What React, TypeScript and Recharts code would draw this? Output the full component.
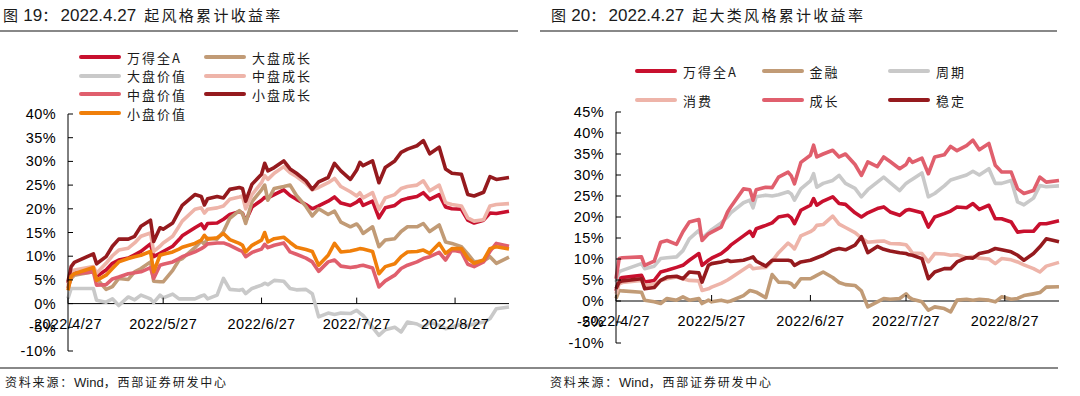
import React from 'react';
import { LineChart, Line, XAxis, YAxis, ReferenceLine } from 'recharts';

// trading days sampled from the two panels (2022)
const DATES = [
  '4/27', '4/28', '4/29', '5/5', '5/6', '5/9', '5/11', '5/13', '5/16', '5/18',
  '5/20', '5/23', '5/24', '5/26', '5/27', '5/30', '6/1', '6/2', '6/6', '6/8',
  '6/9', '6/10', '6/13', '6/15', '6/17', '6/20', '6/21', '6/22', '6/24', '6/27',
  '6/28', '6/29', '7/1', '7/4', '7/6', '7/8', '7/11', '7/13', '7/15', '7/18',
  '7/20', '7/22', '7/25', '7/27', '7/28', '7/29', '8/1', '8/3', '8/5', '8/8',
  '8/10', '8/12', '8/15', '8/17', '8/19', '8/22', '8/24', '8/26', '8/29', '8/31',
  '9/2', '9/5', '9/7', '9/9', '9/13',
];
const TICK_DATES = ['4/27', '5/27', '6/27', '7/27', '8/27'];
const LAST_DATE = '9/13';

const LEFT_Y_TICKS = [-10, -5, 0, 5, 10, 15, 20, 25, 30, 35, 40];
const RIGHT_Y_TICKS = [-10, -5, 0, 5, 10, 15, 20, 25, 30, 35, 40, 45];

const LEFT_NAMES = ['万得全A', '大盘成长', '大盘价值', '中盘成长', '中盘价值', '小盘成长', '小盘价值'];
const RIGHT_NAMES = ['万得全A', '金融', '周期', '消费', '成长', '稳定'];

// 图19 cumulative returns, %
const L_WIND_A = [
  4.3, 6.4, 6.7, 7.4, 5.7, 7.1, 8.5, 9.2, 9.6, 10.3,
  11.0, 12.6, 9.9, 10.6, 11.0, 12.1, 13.5, 14.3, 16.0, 16.8,
  15.8, 16.9, 17.0, 17.8, 18.8, 19.4, 19.1, 17.4, 20.4, 21.8,
  22.4, 22.3, 23.0, 24.0, 22.8, 22.0, 20.9, 20.0, 20.6, 21.6,
  22.5, 21.2, 20.7, 21.4, 22.0, 20.7, 21.6, 18.1, 20.2, 20.7,
  21.8, 22.2, 22.6, 23.4, 22.0, 23.0, 20.4, 20.0, 19.9, 17.6,
  17.0, 17.6, 19.1, 19.0, 19.5,
];
const L_LARGE_GROWTH = [
  3.5, 5.3, 6.0, 6.7, 5.3, 3.0, 3.6, 5.3, 5.1, 6.7,
  7.4, 8.8, 4.7, 4.6, 4.6, 7.0, 9.2, 9.5, 11.8, 13.2,
  12.5, 13.8, 13.6, 15.2, 18.0, 19.6, 19.0, 16.9, 21.5, 24.0,
  25.0, 21.8, 24.3, 24.7, 25.0, 22.8, 20.5, 18.5, 20.0, 18.8,
  19.5, 17.2, 16.2, 16.8, 16.0, 14.8, 16.2, 12.0, 13.4, 13.7,
  15.2, 16.2, 16.2, 16.9, 15.2, 16.6, 13.0, 12.7, 12.0, 10.5,
  8.8, 9.0, 9.9, 8.5, 9.8,
];
const L_LARGE_VALUE = [
  1.1, 3.2, 3.2, 3.2, 0.7, 0.3, 1.0, -0.4, 1.4, 0.8,
  1.8, 1.0, 0.2, 1.8, 1.2, 2.0, 1.0, 1.0, 1.0, 1.6,
  1.8, 1.0, 1.8, 5.3, 3.0, 2.8, 3.0, 2.1, 3.2, 3.9,
  4.3, 4.0, 4.9, 4.7, 3.2, 2.9, 3.0, 2.1, -2.8, -2.0,
  -2.3, -2.0, -2.1, -1.4, -2.0, -2.5, -5.0, -6.7, -5.5, -5.0,
  -6.0, -3.9, -4.3, -5.0, -3.9, -4.6, -5.3, -5.0, -4.3, -4.6,
  -4.3, -3.9, -3.2, -1.1, -0.7,
];
const L_MID_GROWTH = [
  3.9, 6.4, 7.1, 7.8, 6.4, 8.5, 10.1, 11.3, 11.7, 12.8,
  14.2, 14.9, 11.0, 12.1, 12.8, 14.2, 16.3, 17.4, 19.9, 20.2,
  19.1, 19.9, 20.2, 20.6, 22.0, 22.5, 22.7, 20.0, 23.0, 25.5,
  27.0, 26.2, 27.5, 28.9, 27.6, 26.8, 25.3, 24.0, 24.5, 25.5,
  26.4, 24.7, 23.6, 22.7, 23.4, 22.3, 23.4, 19.9, 22.3, 23.0,
  24.3, 24.7, 25.0, 25.9, 23.8, 25.0, 21.3, 20.9, 20.6, 18.1,
  17.4, 17.7, 20.6, 20.9, 21.1,
];
const L_MID_VALUE = [
  3.2, 5.8, 6.3, 6.7, 3.9, 4.0, 5.2, 5.6, 6.3, 6.5,
  6.7, 7.6, 5.3, 8.1, 8.3, 8.8, 9.5, 9.9, 10.9, 11.6,
  12.0, 12.6, 12.8, 12.8, 12.3, 11.3, 11.0, 9.9, 10.8, 11.5,
  12.5, 11.8, 12.3, 12.8, 10.9, 10.4, 9.6, 8.8, 6.8, 8.8,
  9.2, 7.9, 7.6, 7.8, 8.0, 8.1, 7.5, 3.5, 4.8, 6.0,
  7.4, 8.1, 8.8, 9.5, 9.9, 10.8, 9.2, 11.3, 10.9, 8.3,
  7.8, 8.8, 11.0, 12.7, 12.1,
];
const L_SMALL_GROWTH = [
  4.6, 7.8, 8.7, 10.5, 8.4, 9.9, 12.1, 13.6, 13.6, 14.2,
  16.3, 17.6, 13.1, 16.0, 15.7, 17.0, 19.5, 20.7, 23.0, 22.6,
  20.8, 22.1, 22.6, 22.3, 24.1, 24.5, 24.3, 21.6, 25.2, 27.3,
  29.6, 28.0, 28.7, 30.1, 28.4, 27.5, 25.9, 24.1, 25.7, 26.6,
  29.6, 28.0, 26.2, 28.2, 29.8, 29.1, 30.1, 25.5, 28.7, 30.1,
  31.9, 32.6, 33.3, 34.4, 31.6, 33.0, 28.4, 27.5, 27.3, 23.0,
  22.7, 23.5, 26.8, 26.2, 26.6,
];
const L_SMALL_VALUE = [
  2.8, 5.8, 6.3, 7.6, 4.9, 6.0, 7.4, 8.8, 9.5, 9.9,
  10.2, 11.0, 6.7, 10.2, 10.4, 10.9, 11.5, 11.9, 12.7, 13.4,
  14.4, 13.6, 13.9, 14.8, 13.5, 12.7, 12.3, 10.9, 12.3, 13.4,
  15.0, 13.0, 13.7, 14.0, 12.9, 11.9, 11.4, 11.0, 8.1, 10.2,
  12.7, 10.9, 11.1, 11.4, 11.6, 11.5, 11.0, 6.3, 7.8, 8.4,
  9.9, 10.9, 11.0, 11.3, 10.6, 12.7, 10.6, 11.6, 11.6, 9.6,
  8.5, 9.2, 11.6, 12.0, 11.5,
];

// 图20 cumulative returns, %
const R_WIND_A = [
  2.4, 5.3, 5.6, 6.1, 4.5, 4.9, 6.9, 7.3, 8.0, 8.5,
  9.7, 11.3, 8.5, 9.7, 10.2, 11.3, 12.5, 13.3, 15.5, 16.6,
  15.4, 17.2, 18.0, 18.6, 20.0, 20.4, 19.8, 18.4, 21.6, 22.8,
  24.4, 22.8, 23.8, 24.8, 23.2, 23.0, 21.0, 20.0, 21.0, 22.0,
  22.4, 21.2, 20.4, 21.6, 21.8, 21.6, 21.0, 17.6, 20.0, 20.8,
  21.4, 22.4, 22.2, 23.2, 21.8, 22.8, 19.6, 19.6, 18.8, 16.4,
  16.6, 16.6, 18.4, 18.4, 19.1,
];
const R_FINANCE = [
  0.6, 2.5, 2.4, 2.1, 0.2, -0.2, -0.6, 0.6, 0.2, 1.0,
  0.2, 0.6, -0.6, 0.2, -0.2, 0.2, -0.2, 0.0, 1.3, 2.5,
  2.3, 2.1, 0.8, 6.3, 4.5, 4.4, 4.1, 3.3, 5.3, 5.3,
  5.7, 6.1, 6.9, 5.6, 4.4, 3.9, 3.7, 2.4, -1.4, -0.2,
  0.6, 0.4, 0.6, 1.7, 0.9, 0.4, -0.2, -2.2, -1.4, -1.8,
  -2.6, 0.2, 0.4, 0.2, 0.4, 0.2, -0.2, 1.0, 0.4, 0.6,
  1.3, 1.7, 2.0, 3.3, 3.4,
];
const R_CYCLE = [
  4.5, 7.0, 7.3, 8.9, 7.7, 8.3, 10.1, 10.3, 10.5, 12.0,
  14.8, 16.8, 15.0, 16.3, 17.0, 18.6, 20.0, 21.0, 23.4, 24.0,
  22.2, 24.8, 25.2, 25.0, 25.3, 26.0, 25.5, 24.0, 26.7, 28.6,
  30.3, 27.1, 28.0, 28.7, 29.9, 28.0, 26.8, 24.8, 26.5, 28.3,
  29.5, 28.2, 26.3, 28.0, 28.5, 29.0, 30.5, 24.8, 25.6, 27.4,
  28.8, 29.3, 30.0, 30.9, 30.0, 31.5, 28.0, 28.0, 28.7, 23.6,
  22.9, 24.5, 27.5, 27.2, 27.4,
];
const R_CONSUMER = [
  1.7, 4.1, 4.4, 4.9, 3.7, 4.0, 4.9, 5.3, 5.7, 5.3,
  4.9, 4.8, 2.5, 2.9, 3.3, 4.2, 5.0, 5.5, 7.5, 8.5,
  7.7, 7.8, 8.0, 9.5, 11.5, 13.8, 13.2, 12.4, 15.5, 16.5,
  17.0, 18.0, 18.2, 20.2, 18.3, 17.5, 16.3, 15.0, 14.0, 14.2,
  14.3, 13.7, 13.6, 13.4, 12.5, 11.4, 11.3, 9.3, 11.3, 11.2,
  10.9, 11.0, 10.3, 10.6, 10.2, 10.0, 8.9, 10.1, 9.8, 9.3,
  8.6, 7.7, 6.9, 8.3, 9.2,
];
const R_GROWTH = [
  5.3, 10.1, 10.3, 10.5, 8.5, 9.5, 14.0, 14.4, 13.5, 16.5,
  18.8, 19.4, 14.4, 16.0, 16.4, 17.6, 21.2, 22.4, 26.7, 26.5,
  24.0, 26.5, 27.1, 27.0, 29.5, 30.7, 29.8, 27.9, 33.0, 34.7,
  37.1, 34.3, 35.0, 35.9, 34.3, 35.0, 32.5, 29.9, 33.1, 32.0,
  34.3, 33.2, 31.5, 32.5, 33.9, 33.0, 34.0, 30.3, 34.3, 34.8,
  36.8, 35.8, 37.0, 38.3, 36.0, 37.5, 32.3, 30.7, 30.7, 26.7,
  25.6, 26.3, 29.5, 28.3, 28.7,
];
const R_STABLE = [
  2.9, 4.5, 4.8, 5.3, 2.9, 3.2, 4.9, 5.7, 5.9, 5.3,
  6.9, 6.7, 4.5, 8.5, 8.9, 9.3, 9.7, 9.4, 9.7, 10.2,
  10.5, 9.5, 8.3, 9.7, 9.7, 9.7, 9.5, 8.5, 9.3, 9.7,
  10.0, 10.3, 10.9, 12.1, 12.5, 12.2, 13.3, 15.3, 11.5, 13.0,
  12.3, 11.9, 11.5, 11.3, 11.0, 10.9, 10.1, 5.3, 6.9, 7.7,
  7.7, 9.3, 10.3, 10.2, 11.3, 11.8, 12.5, 12.2, 11.7, 10.9,
  9.7, 11.3, 12.9, 14.8, 14.1,
];

const CRIMSON = '#C8102E';
const TAN = '#C19B76';
const GRAY = '#C9C9C9';
const LIGHT_PINK = '#EEB4A9';
const ROSE = '#E05F6D';
const DARK_RED = '#951A1E';
const ORANGE = '#F07F0A';

const NUM_FONT = '"Liberation Sans", Arial, sans-serif';
const CJK_FONT = '"Noto Sans CJK SC", "Noto Sans", sans-serif';

type Series = { key: string; name: string; color: string; values: number[] };

const LEFT_SERIES: Series[] = [
  { key: 'a', name: LEFT_NAMES[0], color: CRIMSON, values: L_WIND_A },
  { key: 'b', name: LEFT_NAMES[1], color: TAN, values: L_LARGE_GROWTH },
  { key: 'c', name: LEFT_NAMES[2], color: GRAY, values: L_LARGE_VALUE },
  { key: 'd2', name: LEFT_NAMES[3], color: LIGHT_PINK, values: L_MID_GROWTH },
  { key: 'e', name: LEFT_NAMES[4], color: ROSE, values: L_MID_VALUE },
  { key: 'f', name: LEFT_NAMES[5], color: DARK_RED, values: L_SMALL_GROWTH },
  { key: 'g', name: LEFT_NAMES[6], color: ORANGE, values: L_SMALL_VALUE },
];

const RIGHT_SERIES: Series[] = [
  { key: 'a', name: RIGHT_NAMES[0], color: CRIMSON, values: R_WIND_A },
  { key: 'b', name: RIGHT_NAMES[1], color: TAN, values: R_FINANCE },
  { key: 'c', name: RIGHT_NAMES[2], color: GRAY, values: R_CYCLE },
  { key: 'd2', name: RIGHT_NAMES[3], color: LIGHT_PINK, values: R_CONSUMER },
  { key: 'e', name: RIGHT_NAMES[4], color: ROSE, values: R_GROWTH },
  { key: 'f', name: RIGHT_NAMES[5], color: DARK_RED, values: R_STABLE },
];

const dayOf = (md: string) => {
  const [m, d] = md.split('/').map(Number);
  return (Date.UTC(2022, m - 1, d) - Date.UTC(2022, 3, 27)) / 86400000;
};

function buildRows(series: Series[]) {
  return DATES.map((md, i) => {
    const row: Record<string, number> = { d: dayOf(md) };
    series.forEach((s) => {
      row[s.key] = s.values[i];
    });
    return row;
  });
}

const XTick = ({ x, payload, zeroY }: any) => (
  <g>
    <line x1={x} x2={x} y1={zeroY} y2={zeroY - 6} stroke="#000" strokeWidth={1} />
    <text
      x={x}
      y={zeroY + 20}
      textAnchor="middle"
      dominantBaseline="central"
      fill="#000"
      style={{ fontFamily: NUM_FONT, fontSize: 14.5, letterSpacing: 0.4 }}
    >
      {'2022/' + TICK_DATES[Math.max(0, TICK_DATES.map(dayOf).indexOf(payload.value))]}
    </text>
  </g>
);

const YTick = ({ x, y, payload }: any) => (
  <g>
    <line x1={x} x2={x + 5} y1={y} y2={y} stroke="#000" strokeWidth={1} />
    <text
      x={x - 12}
      y={y}
      textAnchor="end"
      dominantBaseline="central"
      fill="#000"
      style={{ fontFamily: NUM_FONT, fontSize: 14.5, letterSpacing: 0.4 }}
    >
      {payload.value + '%'}
    </text>
  </g>
);

interface PanelProps {
  left: number;
  series: Series[];
  yTicks: number[];
  top: number;
  bottom: number;
  right: number;
  yAxisWidth: number;
}

function Panel({ left, series, yTicks, top, bottom, right, yAxisWidth }: PanelProps) {
  const W = 540;
  const H = 396;
  const yMin = yTicks[0];
  const yMax = yTicks[yTicks.length - 1];
  const zeroY = top + (yMax / (yMax - yMin)) * (H - top - bottom);
  const rows = buildRows(series);

  return (
    <div style={{ position: 'absolute', left, top: 0, width: W, height: H }}>
      <LineChart width={W} height={H} data={rows} margin={{ top, right, bottom: bottom - 30, left: 0 }}>
        <XAxis
          type="number"
          dataKey="d"
          domain={[0, dayOf(LAST_DATE)]}
          ticks={TICK_DATES.map(dayOf)}
          interval={0}
          height={30}
          axisLine={false}
          tickLine={false}
          tick={(p: any) => <XTick {...p} zeroY={zeroY} />}
        />
        <YAxis
          type="number"
          domain={[yMin, yMax]}
          ticks={yTicks}
          interval={0}
          width={yAxisWidth}
          axisLine={{ stroke: '#000', strokeWidth: 1 }}
          tickLine={false}
          tickSize={0}
          tickMargin={0}
          tick={(p: any) => <YTick {...p} />}
        />
        <ReferenceLine y={0} stroke="#000" strokeWidth={1} />
        {series.map((s) => (
          <Line
            key={s.key}
            type="linear"
            dataKey={s.key}
            name={s.name}
            stroke={s.color}
            strokeWidth={3.6}
            strokeLinejoin="round"
            dot={false}
            activeDot={false}
            isAnimationActive={false}
          />
        ))}
      </LineChart>
    </div>
  );
}

function LegendBlock({ series, x0, y0, dx, dy, cols }: { series: Series[]; x0: number; y0: number; dx: number; dy: number; cols: number }) {
  return (
    <>
      {series.map((s, i) => (
        <div
          key={s.key}
          style={{
            position: 'absolute',
            left: x0 + (i % cols) * dx,
            top: y0 + Math.floor(i / cols) * dy - 10,
            height: 20,
            display: 'flex',
            alignItems: 'center',
            whiteSpace: 'nowrap',
          }}
        >
          <span style={{ display: 'inline-block', width: 42, height: 4, borderRadius: 2, background: s.color, marginRight: 6 }} />
          <span style={{ fontFamily: CJK_FONT, fontSize: 13, letterSpacing: 2, color: '#1a1a1a' }}>{s.name}</span>
        </div>
      ))}
    </>
  );
}

function Title({ x, fig, rest }: { x: number; fig: string; rest: string }) {
  const cjk = { fontFamily: CJK_FONT, fontSize: 15, letterSpacing: 2.3 };
  const num = { fontFamily: NUM_FONT, fontSize: 17 };
  return (
    <div style={{ position: 'absolute', left: x, top: 4, height: 22, lineHeight: '22px', whiteSpace: 'nowrap', color: '#1a1a1a' }}>
      <span style={{ ...cjk, marginRight: 3 }}>图</span>
      <span style={num}>{fig}</span>
      <span style={{ ...cjk, marginRight: 1 }}>：</span>
      <span style={num}>2022.4.27</span>
      <span style={{ ...cjk, marginLeft: 8 }}>{rest}</span>
    </div>
  );
}

function Source({ x }: { x: number }) {
  const cjk = { fontFamily: CJK_FONT, fontSize: 12, letterSpacing: 1.8 };
  return (
    <div style={{ position: 'absolute', left: x, top: 373, lineHeight: '18px', whiteSpace: 'nowrap', color: '#1a1a1a' }}>
      <span style={cjk}>资料来源：</span>
      <span style={{ fontFamily: NUM_FONT, fontSize: 13 }}>Wind</span>
      <span style={cjk}>，西部证券研发中心</span>
    </div>
  );
}

export default function App() {
  return (
    <div style={{ position: 'absolute', left: 0, top: 0, width: 1080, height: 396, background: '#fff', overflow: 'hidden' }}>
      <Title x={3} fig="19" rest="起风格累计收益率" />
      <Title x={551} fig="20" rest="起大类风格累计收益率" />
      <div style={{ position: 'absolute', left: 0, top: 30, width: 518, height: 1.5, background: '#888' }} />
      <div style={{ position: 'absolute', left: 540, top: 30, width: 517, height: 1.5, background: '#888' }} />

      <Panel left={0} series={LEFT_SERIES} yTicks={LEFT_Y_TICKS} top={114} bottom={45} right={31} yAxisWidth={68} />
      <Panel left={540} series={RIGHT_SERIES} yTicks={RIGHT_Y_TICKS} top={112} bottom={53} right={21} yAxisWidth={76} />

      <LegendBlock series={LEFT_SERIES} x0={79} y0={57} dx={125} dy={18.7} cols={2} />
      <LegendBlock series={RIGHT_SERIES} x0={635} y0={71} dx={126.5} dy={29} cols={3} />

      <div style={{ position: 'absolute', left: 0, top: 367, width: 1058, height: 1.5, background: '#888' }} />
      <Source x={5} />
      <Source x={550} />
    </div>
  );
}
